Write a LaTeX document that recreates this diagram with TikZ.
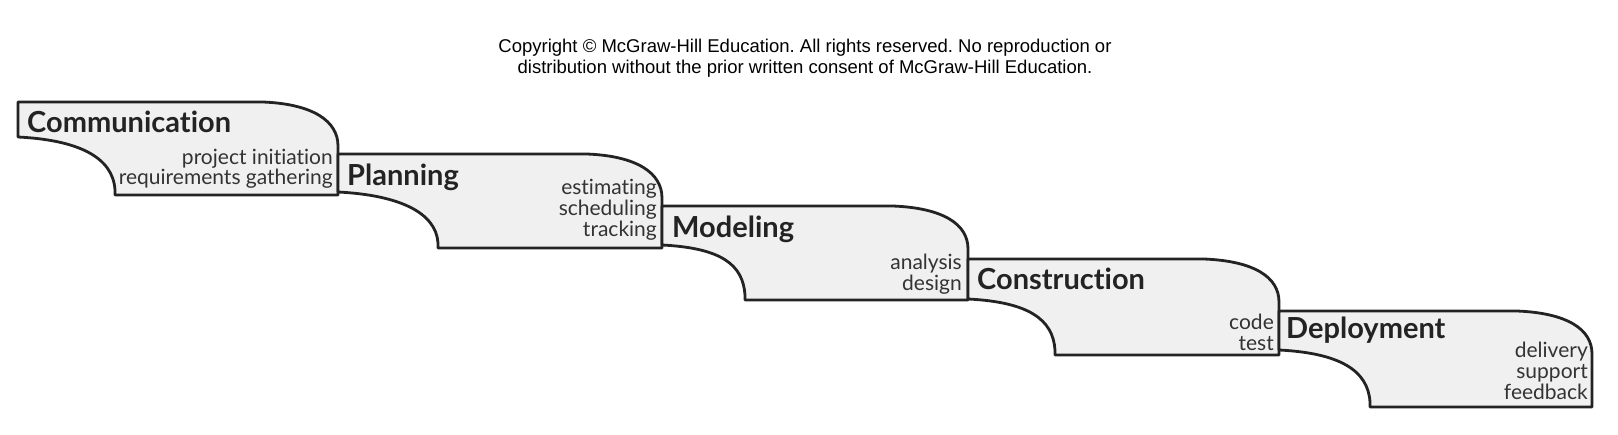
\documentclass[tikz,border=0pt]{standalone}
\usepackage{fontspec}
\setmainfont{Lato}[Ligatures=NoCommon]
\newfontfamily\arialfont{Liberation Sans}
\frenchspacing
\definecolor{stepfill}{HTML}{F0F0F0}
\definecolor{stepline}{HTML}{232323}
\definecolor{tasktext}{HTML}{333333}
% #1 L, #2 T, #3 R, #4 B, #5 bottom-left x, #6 left side bottom y, #7 right side top y
\newcommand\drawstepshape[7]{%
  \path[stepbox] (#1,#2) -- (#3-75,#2)
    .. controls (#3-25,#2+2) and (#3,#7-25) .. (#3,#7)
    -- (#3,#4) -- (#5,#4) -- (#5,#4-5)
    .. controls (#5-2,#6+20) and (#1+60,#6+3) .. (#1,#6) -- cycle;}
\begin{document}
\begin{tikzpicture}[x=1pt,y=-1pt,
  stepbox/.style={fill=stepfill,draw=stepline,line width=2.8pt,line join=round},
  phase/.style={anchor=base west,inner sep=0pt,font=\fontsize{29}{29}\selectfont\bfseries,text=stepline},
  task/.style={anchor=base east,inner sep=0pt,font=\fontsize{21}{21}\selectfont,text=tasktext},
  note/.style={anchor=base,inner sep=0pt,font=\arialfont\fontsize{18.5}{18.5}\selectfont,text=black}]
\fill[white] (0,0) rectangle (1618,434);
\useasboundingbox (0,0) rectangle (1618,434);

\node[note] (copy1) at (805,52.5) {Copyright © McGraw-Hill Education. All rights reserved. No reproduction or};
\node[note] (copy2) at (805,73.5) {distribution without the prior written consent of McGraw-Hill Education.};

\drawstepshape{18}{102}{338}{195}{115}{137}{146}
\drawstepshape{338}{154}{662}{248}{438}{192}{198}
\drawstepshape{662}{206}{968}{300}{745}{245}{249}
\drawstepshape{968}{259}{1279}{355}{1055}{299}{302}
\drawstepshape{1279}{311}{1592}{407}{1370}{350}{354}

\node[phase] (comm) at (27,132.5) {Communication};
\node[task] (comm1) at (333,164) {project initiation};
\node[task] (comm2) at (333,184) {requirements gathering};

\node[phase] (plan) at (347,185) {Planning};
\node[task] (plan1) at (657,194) {estimating};
\node[task] (plan2) at (657,215) {scheduling};
\node[task] (plan3) at (657,236) {tracking};

\node[phase] (model) at (672,237.5) {Modeling};
\node[task] (model1) at (962,269) {analysis};
\node[task] (model2) at (962,290) {design};

\node[phase] (constr) at (977,289.5) {Construction};
\node[task] (constr1) at (1274,329) {code};
\node[task] (constr2) at (1274,350) {test};

\node[phase] (deploy) at (1286,338.5) {Deployment};
\node[task] (deploy1) at (1588,357) {delivery};
\node[task] (deploy2) at (1588,378) {support};
\node[task] (deploy3) at (1588,399) {feedback};
\end{tikzpicture}
\end{document}
